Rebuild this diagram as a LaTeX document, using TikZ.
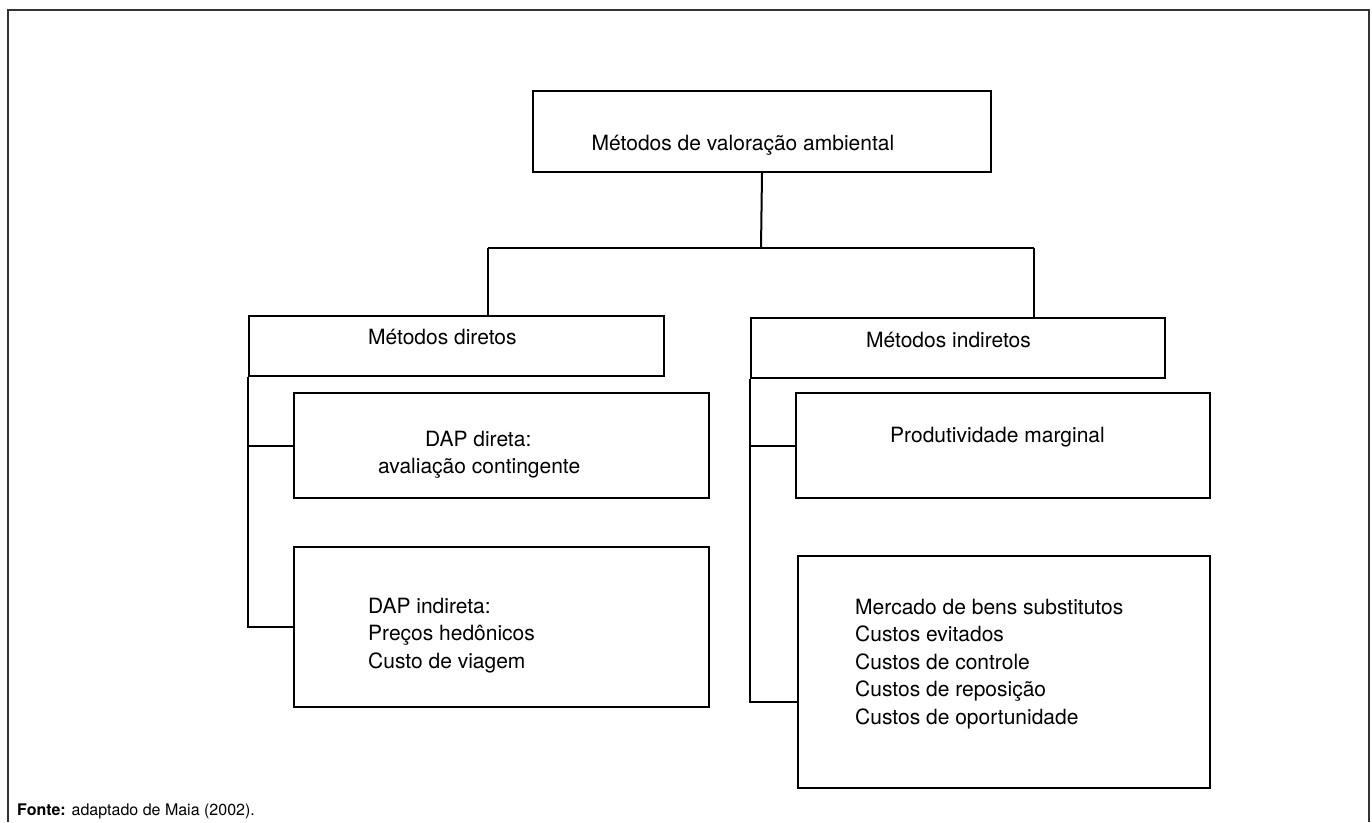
\documentclass[tikz,border=0pt]{standalone}
\usepackage{fontspec}
\setmainfont{TeX Gyre Heros}
\begin{document}
\begin{tikzpicture}[x=1pt,y=-1pt,
  box/.style={draw=black, line width=2pt, inner sep=0pt, anchor=north west},
  conn/.style={draw=black, line width=2pt},
  txt/.style={inner sep=0pt, font=\fontsize{21}{27.5}\selectfont},
  frame/.style={draw=black!80, line width=2pt}]
\useasboundingbox (0,0) rectangle (1372,822);
\draw[frame] (8,822) -- (8,10) -- (1369,10) -- (1369,822);

% boxes
\node[box, minimum width=458pt, minimum height=81pt] (top) at (532,90) {};
\node[box, minimum width=415pt, minimum height=60pt] (dir) at (248,315) {};
\node[box, minimum width=414pt, minimum height=60pt] (ind) at (750,317) {};
\node[box, minimum width=415pt, minimum height=105pt] (dapd) at (293,392) {};
\node[box, minimum width=415pt, minimum height=160pt] (dapi) at (293,546) {};
\node[box, minimum width=414pt, minimum height=105pt] (prod) at (795,392) {};
\node[box, minimum width=412pt, minimum height=232pt] (merc) at (797,555) {};

% texts
\node[txt, anchor=base] (ttop) at (743,150) {Métodos de valoração ambiental};
\node[txt, anchor=base west] (tdir) at (368,344) {Métodos diretos};
\node[txt, anchor=base west] (tind) at (866,347) {Métodos indiretos};
\node[txt, anchor=base west] (tdapd1) at (425,446) {DAP direta:};
\node[txt, anchor=base west] (tdapd2) at (378,473) {avaliação contingente};
\node[txt, anchor=base west] (tprod) at (890,442) {Produtividade marginal};
\node[txt, anchor=base west] (tdapi1) at (368,613) {DAP indireta:};
\node[txt, anchor=base west] (tdapi2) at (368,640.5) {Preços hedônicos};
\node[txt, anchor=base west] (tdapi3) at (368,668) {Custo de viagem};
\node[txt, anchor=base west] (tm1) at (855,614) {Mercado de bens substitutos};
\node[txt, anchor=base west] (tm2) at (855,641.5) {Custos evitados};
\node[txt, anchor=base west] (tm3) at (855,669) {Custos de controle};
\node[txt, anchor=base west] (tm4) at (855,696.5) {Custos de reposição};
\node[txt, anchor=base west] (tm5) at (855,724) {Custos de oportunidade};
\node[inner sep=0pt, anchor=base west, font=\fontsize{16}{18}\selectfont] (fonte) at (17,815) {\textbf{Fonte:} adaptado de Maia (2002).};

% junction coordinates
\coordinate (jt) at (761,248);
\coordinate (jl) at (488,248);
\coordinate (jr) at (1034,248);
\coordinate (mj) at (797,702);

% connectors
\draw[conn] (top.south) -- (jt);
\draw[conn] (jl) -- (jr);
\draw[conn] (jl) -- (jl |- dir.north);
\draw[conn] (jr) -- (jr |- ind.north);
\draw[conn] (dir.south west) |- (dapi.west);
\draw[conn] (dapd.west -| dir.south west) -- (dapd.west);
\draw[conn] (ind.south west) |- (mj);
\draw[conn] (prod.west -| ind.south west) -- (prod.west);
\end{tikzpicture}
\end{document}
